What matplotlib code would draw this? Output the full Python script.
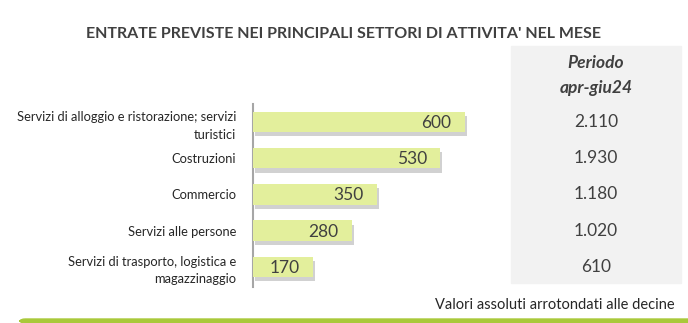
import matplotlib.pyplot as plt
import matplotlib.patheffects as pe
from matplotlib.patches import Rectangle, FancyBboxPatch
from matplotlib.transforms import blended_transform_factory

plt.rcParams['font.family'] = ['Lato', 'DejaVu Sans']

# dati
settori = ['Servizi di alloggio e ristorazione; servizi\nturistici',
           'Costruzioni',
           'Commercio',
           'Servizi alle persone',
           'Servizi di trasporto, logistica e\nmagazzinaggio']
entrate_mese = [600, 530, 350, 280, 170]
entrate_periodo = ['2.110', '1.930', '1.180', '1.020', '610']
titolo = "ENTRATE PREVISTE NEI PRINCIPALI SETTORI DI ATTIVITA' NEL MESE"
nota = 'Valori assoluti arrotondati alle decine'

W, H = 688, 323
fig = plt.figure(figsize=(W / 100, H / 100), dpi=100)
testo = '#404040'

# pannello grigio a destra
fig.patches.append(Rectangle((511 / W, 1 - 283 / H), 170 / W, 237 / H,
                             transform=fig.transFigure, color='#f2f2f2', zorder=-5))
# linea verde in basso
fig.patches.append(FancyBboxPatch((20 / W, 1 - 323 / H), 680 / W, 4 / H,
                                  boxstyle='round,pad=0,rounding_size=0.008',
                                  transform=fig.transFigure, color='#a9c93a', zorder=-5))

fig.text(343 / W, 1 - 34 / H, titolo, ha='center', va='center',
         fontsize=11.5, fontweight='bold', color=testo)
fig.text(596 / W, 1 - 63 / H, 'Periodo', ha='center', va='center',
         fontsize=12.5, fontweight='bold', style='italic', color=testo)
fig.text(596 / W, 1 - 88 / H, 'apr-giu24', ha='center', va='center',
         fontsize=12.5, fontweight='bold', style='italic', color=testo)
fig.text(675 / W, 1 - 305 / H, nota, ha='right', va='center',
         fontsize=10.5, color='#262626')

# grafico a barre
ax_w = 250
ax = fig.add_axes([253 / W, 1 - 287 / H, ax_w / W, 183 / H])
ax.set_xlim(0, ax_w / (212 / 600))
ax.set_ylim(4.56, -0.5)
ypos = list(range(len(settori)))
bars = ax.barh(ypos, entrate_mese, height=0.56, color='#e3ef9c',
               zorder=3)
for b in bars:
    b.set_path_effects([pe.SimplePatchShadow(offset=(1.5, -3), shadow_rgbFace='#8c8c8c', alpha=0.4),
                        pe.Normal()])

for y, v in zip(ypos, entrate_mese):
    ax.text(v - 38, y + 0.03, str(v), ha='right', va='center', fontsize=12.5,
            color=testo, zorder=4)

for s in ['top', 'right', 'bottom']:
    ax.spines[s].set_visible(False)
ax.spines['left'].set_color('#a6a6a6')
ax.spines['left'].set_linewidth(1.5)
ax.set_xticks([])
ax.set_yticks(ypos)
ax.set_yticklabels(settori, fontsize=9.3, color='#262626', ha='right',
                   linespacing=1.55)
ax.tick_params(axis='y', length=0, pad=12)
ax.patch.set_alpha(0)

# colonna periodo
tr = blended_transform_factory(fig.transFigure, ax.transData)
for y, v in zip(ypos, entrate_periodo):
    ax.text(596 / W, y, v, transform=tr, ha='center', va='center',
            fontsize=12.5, color=testo, clip_on=False, zorder=5)

fig.savefig('out.png', dpi=100)
